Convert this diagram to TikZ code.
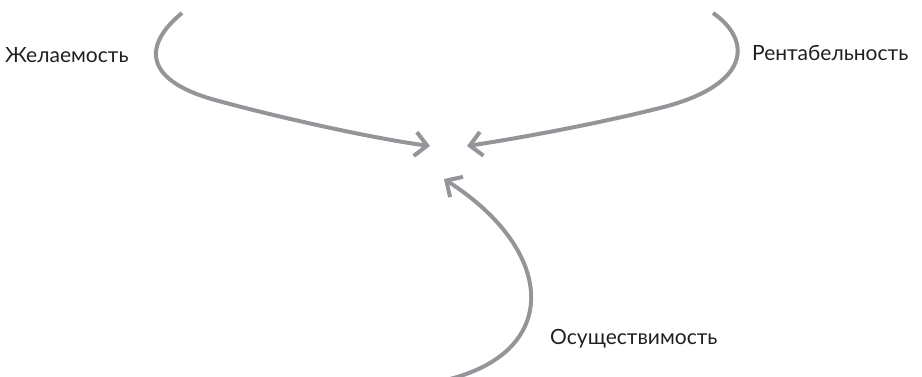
\documentclass[tikz,border=0pt]{standalone}
\usepackage{fontspec}
\setmainfont{Lato}
\usetikzlibrary{arrows.meta}
\definecolor{arrowgray}{HTML}{939598}
\definecolor{textdark}{HTML}{231F20}
\tikzset{
  flow/.style={draw=arrowgray, line width=4pt, -{Straight Barb[length=12pt,width=24pt]}},
  lbl/.style={text=textdark, font=\fontsize{21}{24}\selectfont, anchor=west, inner sep=0pt}
}
\begin{document}
\begin{tikzpicture}[x=1pt,y=-1pt]
\useasboundingbox (0,0) rectangle (922,377);
\node[lbl] (des) at (5,55) {Желаемость};
\node[lbl] (via) at (752,53) {Рентабельность};
\node[lbl] (fea) at (550,339) {Осуществимость};
\coordinate (s1) at (182,13);
\coordinate (e1) at (430,146);
\coordinate (s2) at (713,13);
\coordinate (e2) at (467,146);
\coordinate (s3) at (450,379);
\coordinate (e3) at (444,179);
\draw[flow] (s1) .. controls (143,45) and (143,80) .. (215,100)
  .. controls (273,116) and (370,138) .. (e1);
\draw[flow] (s2) .. controls (752,40) and (752,85) .. (660,108)
  .. controls (596,124) and (520,138) .. (e2);
\draw[flow] (s3) .. controls (562,350) and (555,250) .. (e3);
\end{tikzpicture}
\end{document}
